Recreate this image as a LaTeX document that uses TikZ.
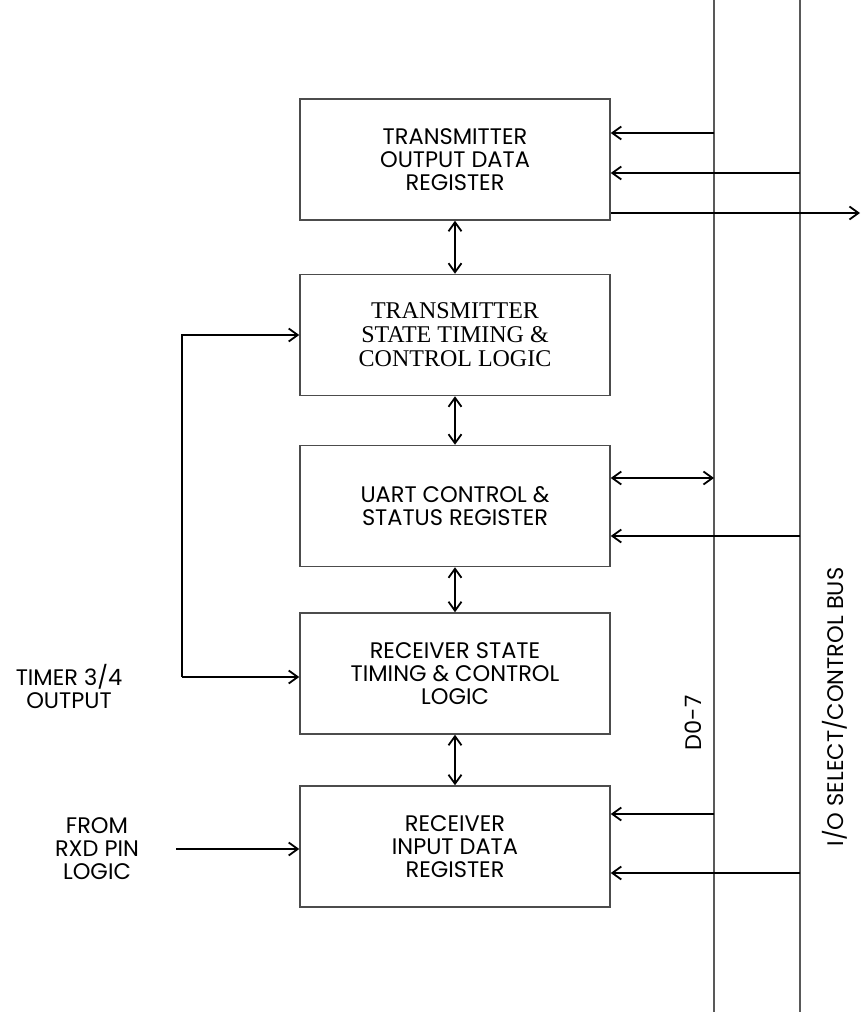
\documentclass[tikz,border=0pt]{standalone}
\usepackage{fontspec}
\newfontfamily\gothic{Poppins}
\newfontfamily\serifblk{Liberation Serif}
\usepackage{tikz}
\usetikzlibrary{arrows.meta}
\usetikzlibrary{positioning}
\tikzstyle{blk}=[draw=black!70,line width=1.5pt,minimum width=310pt,minimum
                height=121pt,inner sep=0pt,align=center,
                font=\gothic\fontsize{22.5}{23}\selectfont]
\tikzstyle{blkrm}=[blk,font=\serifblk\fontsize{24}{24}\selectfont]
\tikzstyle{bus}=[draw=black!65,line width=1.5pt]
\tikzstyle{sig}=[->,line width=1.1pt]
\tikzstyle{bisig}=[<->,line width=1.1pt]
\tikzstyle{lbl}=[align=center,inner sep=0pt,
                font=\gothic\fontsize{22.5}{23}\selectfont]

\begin{document}
\begin{tikzpicture}[x=1pt,y=-1pt,
  >={Straight Barb[length=9pt,width=13pt,line width=1.8pt]}]
\useasboundingbox (0,0) rectangle (861,1017);
% buses
\coordinate (d0top) at (714,0);
\coordinate (d0bot) at (714,1012);
\coordinate (iotop) at (800,0);
\coordinate (iobot) at (800,1012);
\draw[bus] (d0top) -- (d0bot);
\draw[bus] (iotop) -- (iobot);
\node[lbl,rotate=90] (d0lbl) at (693,723) {D0-7};
\node[lbl,rotate=90] (iolbl) at (835,707) {I/O SELECT/CONTROL BUS};
% blocks
\node[blk] (txout) at (455,159.5) {TRANSMITTER\\OUTPUT DATA\\REGISTER};
\node[blkrm] (txctl) at (455,335) {TRANSMITTER\\STATE TIMING \&\\CONTROL LOGIC};
\node[blk] (uart) at (455,506) {UART CONTROL \&\\STATUS REGISTER};
\node[blk] (rxctl) at (455,673.5) {RECEIVER STATE\\TIMING \& CONTROL\\LOGIC};
\node[blk] (rxin) at (455,846.5) {RECEIVER\\INPUT DATA\\REGISTER};
\draw[bisig] (txout.south) -- (txctl.north);
\draw[bisig] (txctl.south) -- (uart.north);
\draw[bisig] (uart.south) -- (rxctl.north);
\draw[bisig] (rxctl.south) -- (rxin.north);
% bus taps
\coordinate (d0a) at (714,133);
\coordinate (ioa) at (800,173);
\coordinate (txend) at (860,213);
\coordinate (d0b) at (714,478);
\coordinate (iob) at (800,536);
\coordinate (d0c) at (714,814);
\coordinate (ioc) at (800,873);
\draw[sig] (d0a) -- (d0a -| txout.east);
\draw[sig] (ioa) -- (ioa -| txout.east);
\draw[sig] (txend -| txout.east) -- (txend);
\draw[bisig] (d0b -| uart.east) -- (d0b);
\draw[sig] (iob) -- (iob -| uart.east);
\draw[sig] (d0c) -- (d0c -| rxin.east);
\draw[sig] (ioc) -- (ioc -| rxin.east);
% left inputs
\node[lbl] (timer) at (69,686) {TIMER 3/4\\OUTPUT};
\coordinate (tbr) at (182,677);
\draw[sig] (tbr) -- (tbr -| rxctl.west);
\draw[sig] (tbr) |- (txctl.west);
\node[lbl] (rxd) at (97,849) {FROM\\RXD PIN\\LOGIC};
\coordinate (rxdst) at (176,849);
\draw[sig] (rxdst) -- (rxdst -| rxin.west);
\end{tikzpicture}
\end{document}
